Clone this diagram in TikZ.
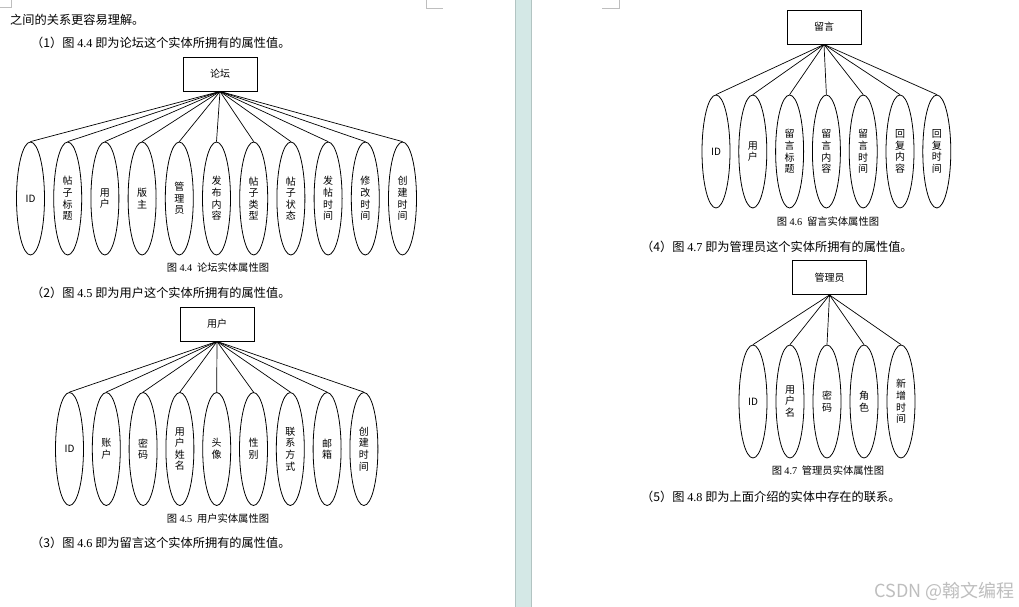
\documentclass[tikz,border=0pt]{standalone}
\usepackage{fontspec}
\setmainfont{Liberation Serif}
\newfontfamily\cjk{Noto Sans CJK SC}
\usetikzlibrary{shapes.geometric}

\definecolor{pagebar}{RGB}{212,232,230}
\definecolor{barline}{RGB}{178,196,194}
\definecolor{cornermark}{RGB}{190,190,190}
\definecolor{watermark}{RGB}{190,190,190}

\tikzset{
  entity/.style={draw, line width=0.9pt, minimum width=74pt, minimum height=34pt,
    inner sep=0pt, font=\cjk\fontsize{10}{12}\selectfont},
  attr/.style={draw, ellipse, line width=0.8pt, minimum width=28pt, minimum height=113pt,
    inner sep=0pt, align=center, font=\cjk\fontsize{10}{11.6}\selectfont},
  link/.style={line width=0.7pt},
  body/.style={anchor=west, inner sep=0pt, font=\cjk\fontsize{12.2}{14}\selectfont},
  caption/.style={inner sep=0pt, font=\cjk\fontsize{10.3}{12}\selectfont},
}
\newcommand\fignum[1]{{\rmfamily #1}}

\begin{document}
\begin{tikzpicture}[x=1pt, y=-1pt]
\useasboundingbox (0,0) rectangle (1019,607);
\fill[white] (0,0) rectangle (1019,607);
% gap between the two pages
\fill[pagebar] (515,0) rectangle (531,607);
\draw[barline, line width=0.6pt] (515,0) -- (515,607) (531,0) -- (531,607);
\draw[cornermark, line width=0.6pt] (0,7) -- (11,7) -- (11,0);
\draw[cornermark, line width=0.6pt] (426,0) -- (426,8) -- (443,8);
\draw[cornermark, line width=0.6pt] (602,8) -- (619,8) -- (619,0);

% left page
\node[body] (t0) at (10,20) {之间的关系更容易理解。};
\node[body] (t1) at (31,43) {（1）图 \fignum{4.4} 即为论坛这个实体所拥有的属性值。};

\node[entity] (forum) at (220,74) {论坛};
\foreach \t [count=\i from 0] in {ID, 帖\\子\\标\\题, 用\\户, 版\\主, 管\\理\\员, 发\\布\\内\\容,
    帖\\子\\类\\型, 帖\\子\\状\\态, 发\\帖\\时\\间, 修\\改\\时\\间, 创\\建\\时\\间} {
  \node[attr] (f\i) at ({30.5+37.2*\i},198.5) {\t};
  \draw[link] (forum.south) -- (f\i.north);
}
\node[caption] (c1) at (218,268) {图 \fignum{4.4}~ 论坛实体属性图};

\node[body] (t2) at (31,293) {（2）图 \fignum{4.5} 即为用户这个实体所拥有的属性值。};
\node[entity] (user) at (217,324) {用户};
\foreach \t [count=\i from 0] in {ID, 账\\户, 密\\码, 用\\户\\姓\\名, 头\\像, 性\\别,
    联\\系\\方\\式, 邮\\箱, 创\\建\\时\\间} {
  \node[attr] (u\i) at ({69.5+36.8*\i},449) {\t};
  \draw[link] (user.south) -- (u\i.north);
}
\node[caption] (c2) at (218,519) {图 \fignum{4.5}~ 用户实体属性图};
\node[body] (t3) at (31,543) {（3）图 \fignum{4.6} 即为留言这个实体所拥有的属性值。};

% right page
\node[entity] (msg) at (824,27) {留言};
\foreach \t [count=\i from 0] in {ID, 用\\户, 留\\言\\标\\题, 留\\言\\内\\容, 留\\言\\时\\间,
    回\\复\\内\\容, 回\\复\\时\\间} {
  \node[attr] (m\i) at ({716+36.8*\i},151.5) {\t};
  \draw[link] (msg.south) -- (m\i.north);
}
\node[caption] (c3) at (828,222) {图 \fignum{4.6}~ 留言实体属性图};
\node[body] (t4) at (641,247) {（4）图 \fignum{4.7} 即为管理员这个实体所拥有的属性值。};

\node[entity] (admin) at (829.5,277.5) {管理员};
\foreach \t [count=\i from 0] in {ID, 用\\户\\名, 密\\码, 角\\色, 新\\增\\时\\间} {
  \node[attr] (a\i) at ({753+37*\i},401.5) {\t};
  \draw[link] (admin.south) -- (a\i.north);
}
\node[caption] (c4) at (828,471) {图 \fignum{4.7}~ 管理员实体属性图};
\node[body] (t5) at (641,497) {（5）图 \fignum{4.8} 即为上面介绍的实体中存在的联系。};

\node[anchor=east, inner sep=0pt, text=watermark, font=\cjk\fontsize{18}{20}\selectfont]
  (mark) at (1015,591) {CSDN @翰文编程};
\end{tikzpicture}
\end{document}
